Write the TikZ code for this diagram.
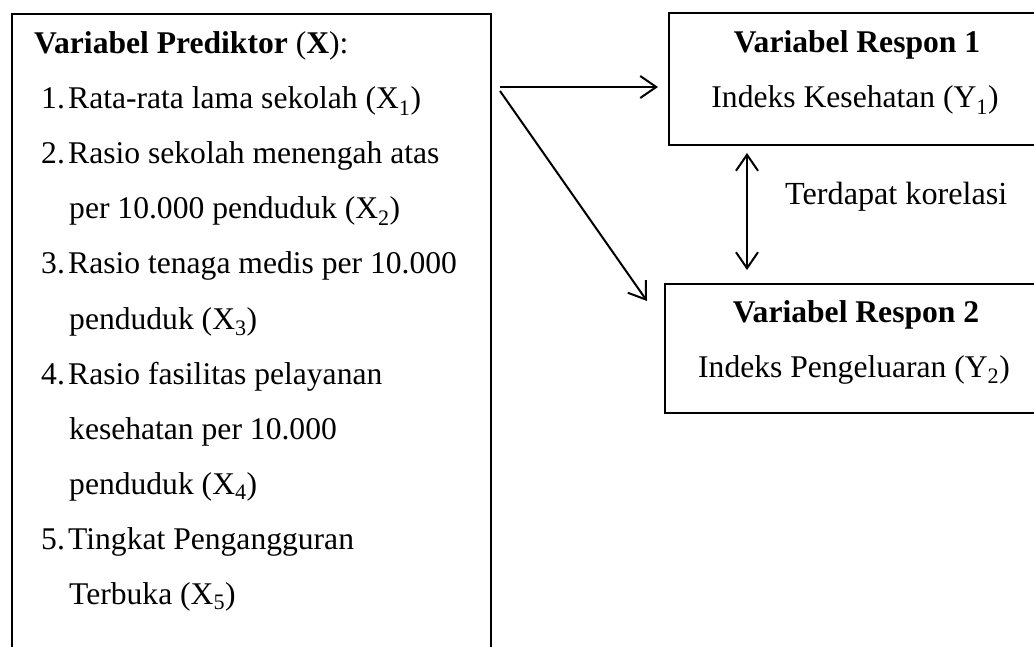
\documentclass[tikz,border=0pt]{standalone}
\usepackage{fontspec}
\setmainfont{Liberation Serif}
\usetikzlibrary{arrows.meta}
\begin{document}
\begin{tikzpicture}[x=1pt,y=-1pt,
  frame/.style={draw,line width=1.6pt,inner sep=0pt,anchor=north west},
  txt/.style={anchor=base west,inner sep=0pt,font=\fontsize{31.6}{38}\selectfont},
  ctxt/.style={anchor=base,inner sep=0pt,font=\fontsize{31.6}{38}\selectfont},
  conn/.style={line width=2pt,-{Straight Barb[length=16pt,width=22pt,line width=2pt]}},
  dconn/.style={line width=2pt,{Straight Barb[length=16pt,width=22pt,line width=2pt]}-{Straight Barb[length=16pt,width=22pt,line width=2pt]}}
]
\useasboundingbox (0,0) rectangle (1034,647);
% boxes
\node[frame,minimum width=479pt,minimum height=700pt] (pred) at (11,13) {};
\node[frame,minimum width=420pt,minimum height=132pt] (resp1) at (668,12) {};
\node[frame,minimum width=420pt,minimum height=129pt] (resp2) at (664,283) {};
% left box text
\node[txt] (title) at (34,54) {\textbf{Variabel Prediktor} (\textbf{X}):};
\node[txt] (n1) at (41,109) {1.};
\node[txt] (l1) at (68,109) {Rata-rata lama sekolah (X\textsubscript{1})};
\node[txt] (n2) at (41,164) {2.};
\node[txt] (l2) at (68,164) {Rasio sekolah menengah atas};
\node[txt] (l2b) at (69,219) {per 10.000 penduduk (X\textsubscript{2})};
\node[txt] (n3) at (41,274) {3.};
\node[txt] (l3) at (68,274) {Rasio tenaga medis per 10.000};
\node[txt] (l3b) at (69,329) {penduduk (X\textsubscript{3})};
\node[txt] (n4) at (41,384) {4.};
\node[txt] (l4) at (68,384) {Rasio fasilitas pelayanan};
\node[txt] (l4b) at (69,439) {kesehatan per 10.000};
\node[txt] (l4c) at (69,494) {penduduk (X\textsubscript{4})};
\node[txt] (n5) at (41,549) {5.};
\node[txt] (l5) at (68,549) {Tingkat Pengangguran};
\node[txt] (l5b) at (69,604) {Terbuka (X\textsubscript{5})};
% right box text
\node[ctxt] (r1t) at (857,53) {\textbf{Variabel Respon 1}};
\node[ctxt] (r1s) at (855,108) {Indeks Kesehatan (Y\textsubscript{1})};
\node[ctxt] (r2t) at (856,323) {\textbf{Variabel Respon 2}};
\node[ctxt] (r2s) at (854,377) {Indeks Pengeluaran (Y\textsubscript{2})};
\node[txt] (kor) at (785,205) {\fontsize{32.2}{38}\selectfont Terdapat korelasi};
% connectors
\coordinate (s1) at (500,87);
\coordinate (e1) at (658,87);
\coordinate (s2) at (500,91);
\coordinate (e2) at (647,301);
\coordinate (d1) at (747,153);
\coordinate (d2) at (747,270);
\draw[conn] (s1) -- (e1);
\draw[conn] (s2) -- (e2);
\draw[dconn] (d1) -- (d2);
\end{tikzpicture}
\end{document}
